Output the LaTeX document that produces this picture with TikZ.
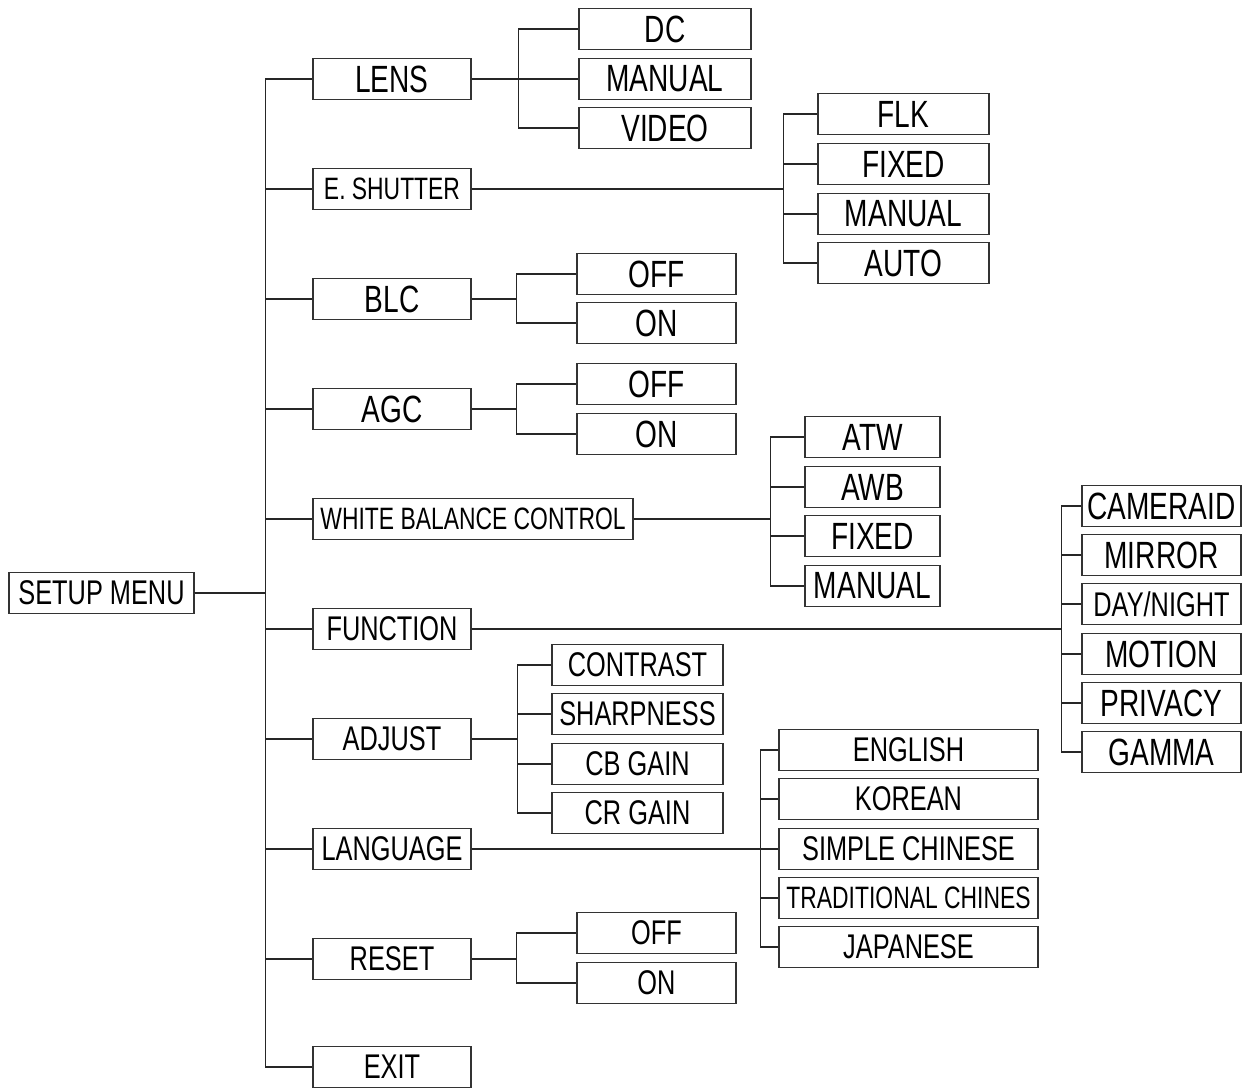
\documentclass[tikz,border=0pt]{standalone}
\usepackage{fontspec}
\setmainfont{Liberation Sans}[FakeStretch=0.74]
\tikzset{
    box/.style={draw=black!80, line width=0.9pt, minimum height=0.82cm, inner sep=0pt},
    bigtxt/.style={font=\fontsize{21.6}{23}\selectfont},
    midtxt/.style={font=\fontsize{19.5}{21}\selectfont},
    smalltxt/.style={font=\fontsize{17.6}{19}\selectfont},
    link/.style={draw=black!85, line width=0.75pt},
}
\begin{document}
\begin{tikzpicture}[x=0.02cm, y=-0.02cm]
            \useasboundingbox (0,0) rectangle (1250,1088);
            % root
            \node[box, midtxt, minimum width=3.7cm] (menu) at (101.5,593) {SETUP MENU};
            % first level
            \node[box, bigtxt, minimum width=3.16cm] (lens)  at (392,79)   {LENS};
            \node[box, smalltxt, minimum width=3.16cm] (shut) at (392,189) {E. SHUTTER};
            \node[box, bigtxt, minimum width=3.16cm] (blc)   at (392,299)  {BLC};
            \node[box, bigtxt, minimum width=3.16cm] (agc)   at (392,409)  {AGC};
            \node[box, smalltxt, minimum width=6.4cm] (wbc)  at (473,519)  {WHITE BALANCE CONTROL};
            \node[box, midtxt, minimum width=3.16cm] (func)  at (392,629)  {FUNCTION};
            \node[box, midtxt, minimum width=3.16cm] (adj)   at (392,739)  {ADJUST};
            \node[box, midtxt, minimum width=3.16cm] (lang)  at (392,849)  {LANGUAGE};
            \node[box, midtxt, minimum width=3.16cm] (reset) at (392,959)  {RESET};
            \node[box, midtxt, minimum width=3.16cm] (exit)  at (392,1067) {EXIT};
            \foreach \c in {lens,shut,blc,agc,wbc,func,adj,lang,reset,exit}
                \draw[link] (menu.east) -- ++(71,0) |- (\c.west);
            % lens
            \node[box, bigtxt, minimum width=3.44cm] (dc)      at (665,29)  {DC};
            \node[box, bigtxt, minimum width=3.44cm] (lmanual) at (665,79)  {MANUAL};
            \node[box, bigtxt, minimum width=3.44cm] (video)   at (665,128) {VIDEO};
            \foreach \c in {dc,lmanual,video}
                \draw[link] (lens.east) -- ++(47,0) |- (\c.west);
            % e. shutter
            \node[box, bigtxt, minimum width=3.42cm] (flk)     at (903.5,114) {FLK};
            \node[box, bigtxt, minimum width=3.42cm] (sfixed)  at (903.5,164) {FIXED};
            \node[box, bigtxt, minimum width=3.42cm] (smanual) at (903.5,214) {MANUAL};
            \node[box, bigtxt, minimum width=3.42cm] (sauto)   at (903.5,263) {AUTO};
            \foreach \c in {flk,sfixed,smanual,sauto}
                \draw[link] (shut.east) -- ++(312,0) |- (\c.west);
            % blc and agc
            \node[box, bigtxt, minimum width=3.18cm] (bloff) at (656.5,274) {OFF};
            \node[box, bigtxt, minimum width=3.18cm] (blon)  at (656.5,323) {ON};
            \node[box, bigtxt, minimum width=3.18cm] (agoff) at (656.5,384) {OFF};
            \node[box, bigtxt, minimum width=3.18cm] (agon)  at (656.5,434) {ON};
            \foreach \c in {bloff,blon}
                \draw[link] (blc.east) -- ++(45,0) |- (\c.west);
            \foreach \c in {agoff,agon}
                \draw[link] (agc.east) -- ++(45,0) |- (\c.west);
            % white balance
            \node[box, bigtxt, minimum width=2.7cm] (atw)     at (872.5,437) {ATW};
            \node[box, bigtxt, minimum width=2.7cm] (awb)     at (872.5,487) {AWB};
            \node[box, bigtxt, minimum width=2.7cm] (wfixed)  at (872.5,536) {FIXED};
            \node[box, bigtxt, minimum width=2.7cm] (wmanual) at (872.5,586) {MANUAL};
            \foreach \c in {atw,awb,wfixed,wmanual}
                \draw[link] (wbc.east) -- ++(137,0) |- (\c.west);
            % function
            \node[box, bigtxt, minimum width=3.18cm] (camid)   at (1161.5,506) {CAMERAID};
            \node[box, bigtxt, minimum width=3.18cm] (mirror)  at (1161.5,555) {MIRROR};
            \node[box, midtxt, minimum width=3.18cm] (daynt)   at (1161.5,604) {DAY/NIGHT};
            \node[box, bigtxt, minimum width=3.18cm] (motion)  at (1161.5,654) {MOTION};
            \node[box, bigtxt, minimum width=3.18cm] (privacy) at (1161.5,703) {PRIVACY};
            \node[box, bigtxt, minimum width=3.18cm] (gamma)   at (1161.5,752) {GAMMA};
            \foreach \c in {camid,mirror,daynt,motion,privacy,gamma}
                \draw[link] (func.east) -- ++(590,0) |- (\c.west);
            % adjust
            \node[box, midtxt, minimum width=3.42cm] (contrast) at (637.5,665) {CONTRAST};
            \node[box, midtxt, minimum width=3.42cm] (sharp)    at (637.5,714) {SHARPNESS};
            \node[box, midtxt, minimum width=3.42cm] (cbgain)   at (637.5,764) {CB GAIN};
            \node[box, midtxt, minimum width=3.42cm] (crgain)   at (637.5,813) {CR GAIN};
            \foreach \c in {contrast,sharp,cbgain,crgain}
                \draw[link] (adj.east) -- ++(46,0) |- (\c.west);
            % language
            \node[box, midtxt, minimum width=5.18cm] (english)  at (908.5,750) {ENGLISH};
            \node[box, midtxt, minimum width=5.18cm] (korean)   at (908.5,799) {KOREAN};
            \node[box, midtxt, minimum width=5.18cm] (schinese) at (908.5,849) {SIMPLE CHINESE};
            \node[box, smalltxt, minimum width=5.18cm] (tchinese) at (908.5,898) {TRADITIONAL CHINES};
            \node[box, midtxt, minimum width=5.18cm] (japanese) at (908.5,947) {JAPANESE};
            \foreach \c in {english,korean,schinese,tchinese,japanese}
                \draw[link] (lang.east) -- ++(289,0) |- (\c.west);
            % reset
            \node[box, midtxt, minimum width=3.18cm] (resoff) at (656.5,933) {OFF};
            \node[box, midtxt, minimum width=3.18cm] (reson)  at (656.5,983) {ON};
            \foreach \c in {resoff,reson}
                \draw[link] (reset.east) -- ++(45,0) |- (\c.west);
        \end{tikzpicture}
\end{document}
